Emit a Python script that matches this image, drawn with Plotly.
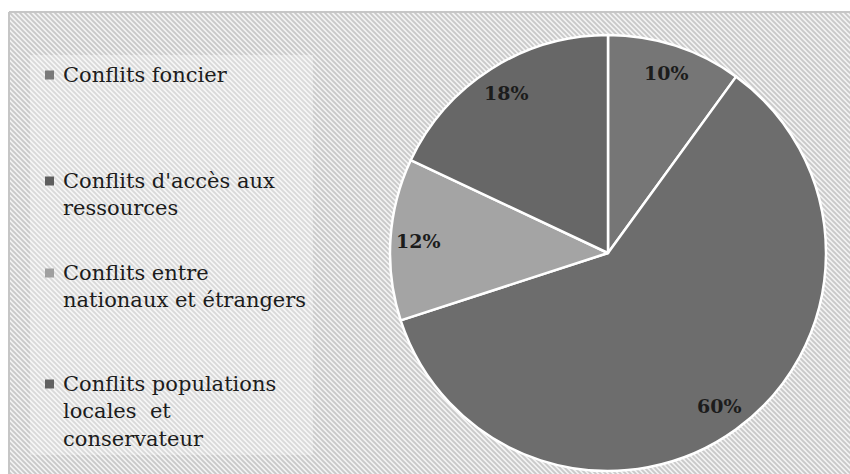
import base64
import math
import plotly.graph_objects as go

# ---- data ----
categories = [
    "Conflits foncier",
    "Conflits d'accès aux ressources",
    "Conflits entre nationaux et étrangers",
    "Conflits populations locales  et conservateur",
]
legend_lines = [
    ["Conflits foncier"],
    ["Conflits d'accès aux", "ressources"],
    ["Conflits entre", "nationaux et étrangers"],
    ["Conflits populations", "locales  et", "conservateur"],
]
values = [10, 60, 12, 18]

# ---- style ----
W, H = 850, 474
slice_colors = ["#767676", "#6d6d6d", "#a4a4a4", "#676767"]
marker_colors = ["#7a7a7a", "#5e5e5e", "#a0a0a0", "#626262"]
text_color = "#1c1c1c"
serif = "DejaVu Serif, Liberation Serif, serif"

cx, cy, R = 608, 253, 218          # pie centre / radius in pixels
label_frac = 0.87                   # label distance as fraction of radius


def px(x):
    return x / W


def py(y):
    return 1 - y / H


# hatched background as inline SVG
pattern_svg = f"""<svg xmlns='http://www.w3.org/2000/svg' width='{W}' height='{H}'>
<defs><pattern id='p' width='5' height='5' patternUnits='userSpaceOnUse'>
<rect width='5' height='5' fill='#f3f3f3'/>
<path d='M-1,-1 L6,6 M-1,4 L1,6 M4,-1 L6,1' stroke='#c9c9c9' stroke-width='1.9'/>
</pattern></defs>
<rect width='{W}' height='{H}' fill='url(#p)'/>
</svg>"""
bg_uri = "data:image/svg+xml;base64," + base64.b64encode(pattern_svg.encode()).decode()

fig = go.Figure()
fig.add_trace(go.Pie(
    labels=categories,
    values=values,
    sort=False,
    direction="clockwise",
    rotation=0,
    marker=dict(colors=slice_colors, line=dict(color="white", width=2.5)),
    textinfo="none",
    hoverinfo="label+percent",
    showlegend=False,
    domain=dict(x=[px(cx - R), px(cx + R)], y=[py(cy + R), py(cy - R)]),
))

annotations = []
# percentage labels positioned from the cumulative values
total = sum(values)
cum = 0
for v in values:
    mid = (cum + v / 2) / total * 2 * math.pi
    cum += v
    lx = cx + label_frac * R * math.sin(mid)
    ly = cy - label_frac * R * math.cos(mid)
    annotations.append(dict(
        x=px(lx), y=py(ly), xref="paper", yref="paper",
        text=f"<b>{round(v / total * 100)}%</b>", showarrow=False,
        font=dict(family=serif, size=19, color=text_color),
        xanchor="center", yanchor="middle",
    ))

# manual legend
first_line_y = [75, 181, 273, 384]
line_h = 27.3
shapes = [
    # frame: top and left edges
    dict(type="line", xref="paper", yref="paper", x0=px(9), x1=1,
         y0=py(12), y1=py(12), line=dict(color="#c6c6c6", width=2), layer="above"),
    dict(type="line", xref="paper", yref="paper", x0=px(9), x1=px(9),
         y0=py(12), y1=0, line=dict(color="#c6c6c6", width=2), layer="above"),
    # lighter legend panel
    dict(type="rect", xref="paper", yref="paper", x0=px(30), x1=px(313),
         y0=py(455), y1=py(55), line=dict(width=0),
         fillcolor="rgba(255,255,255,0.3)", layer="above"),
]
for i, lines in enumerate(legend_lines):
    y0 = first_line_y[i]
    shapes.append(dict(type="rect", xref="paper", yref="paper",
                       x0=px(45), x1=px(54), y0=py(y0 + 4.5), y1=py(y0 - 4.5),
                       fillcolor=marker_colors[i], line=dict(width=0), layer="above"))
    block_center = y0 + (len(lines) - 1) * line_h / 2
    annotations.append(dict(
        x=px(61), y=py(block_center), xref="paper", yref="paper",
        text="<br>".join(lines), showarrow=False, align="left",
        font=dict(family=serif, size=21, color=text_color),
        xanchor="left", yanchor="middle",
    ))

fig.update_layout(
    width=W, height=H,
    margin=dict(l=0, r=0, t=0, b=0),
    paper_bgcolor="white",
    plot_bgcolor="white",
    showlegend=False,
    annotations=annotations,
    shapes=shapes,
    images=[dict(source=bg_uri, xref="paper", yref="paper",
                 x=px(9), y=py(12), sizex=1, sizey=1,
                 xanchor="left", yanchor="top", sizing="stretch", layer="below")],
)

fig.write_html("out.html")
